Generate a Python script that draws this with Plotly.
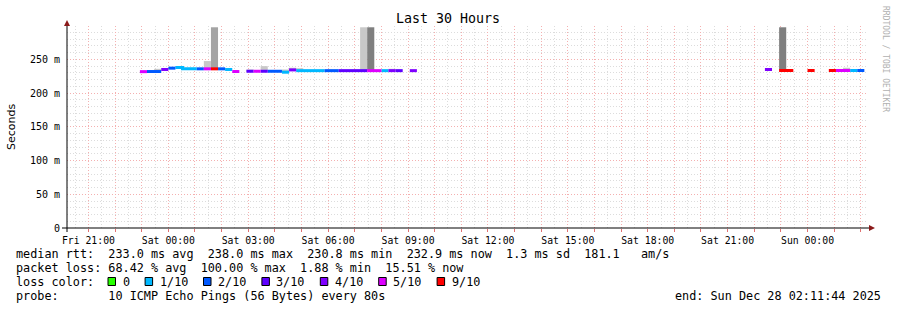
import plotly.graph_objects as go
from datetime import datetime, timedelta

# ---------------- data ----------------
TITLE = "Last 30 Hours"
END = datetime(2025, 12, 28, 2, 11, 44)
START = END - timedelta(hours=30)
FIRST_SAMPLE = datetime(2025, 12, 26, 22, 56, 0)   # start of consolidated sample 0
STEP_S = 960                                        # consolidated step (s)

# consolidated samples that have a median (100 % loss samples are absent)
sample_idx = [0, 1, 2, 3, 4, 5, 6, 7, 8, 9, 10, 11, 12, 13,
              15, 16, 17, 18, 19, 20, 21, 22, 23, 24, 25, 26, 27, 28, 29, 30, 31, 32, 33, 34, 35, 36, 38,
              88, 90, 91, 94, 97, 98, 99, 100, 101]
median_ms = [231.8, 232.0, 232.0, 235.0, 237.0, 238.0, 236.0, 236.0, 236.0, 236.0, 236.0, 236.0, 235.0, 232.0,
             232.4, 232.4, 232.4, 232.4, 232.4, 231.0, 234.4, 233.3, 233.3, 233.3, 233.3, 233.3, 233.3, 233.3,
             233.3, 233.3, 233.3, 233.3, 233.3, 233.3, 233.3, 233.3, 233.3,
             235.0, 233.5, 233.5, 233.5, 233.5, 233.5, 233.5, 233.5, 233.5]
loss_count = [5, 2, 2, 4, 2, 1, 1, 1, 2, 5, 9, 2, 1, 5,
              3, 5, 3, 2, 2, 1, 4, 1, 1, 1, 1, 2, 2, 3, 3, 3, 3, 5, 5, 1, 4, 3, 4,
              4, 9, 9, 9, 9, 5, 5, 1, 2]

# visible smoke above the median
smoke_idx = [2, 9, 10, 15, 17, 20, 21, 22, 31, 32, 35, 90, 99]
smoke_top_ms = [236.0, 247.5, 297.6, 235.0, 240.0, 235.0, 237.6, 237.0, 297.6, 297.6, 236.0, 297.6, 237.6]
smoke_shade = [0, 0, 1, 0, 0, 0, 0, 0, 0, 2, 0, 2, 0]

loss_levels = [0, 1, 2, 3, 4, 5, 9]
loss_labels = ["0", "1/10", "2/10", "3/10", "4/10", "5/10", "9/10"]
loss_colors = ["#26ff00", "#00b8ff", "#0059ff", "#5e00ff", "#7e00ff", "#dd00ff", "#ff0000"]
shade_colors = ["#c8c8c8", "#a4a4a4", "#7f7f7f"]

y_tickvals = [0, 0.05, 0.10, 0.15, 0.20, 0.25]
y_ticktext = ["0", "50 m", "100 m", "150 m", "200 m", "250 m"]

stats_rtt = "median rtt:  233.0 ms avg  238.0 ms max  230.8 ms min  232.9 ms now  1.3 ms sd  181.1   am/s"
stats_loss = "packet loss: 68.42 % avg  100.00 % max  1.88 % min  15.51 % now"
probe_txt = "probe:       10 ICMP Echo Pings (56 Bytes) every 80s"

# ---------------- geometry helpers ----------------
W, H = 897, 310
ML, MR, MT, MB = 67, 31, 26, 82
PW, PH = W - ML - MR, H - MT - MB
FONT = "DejaVu Sans Mono"


def px(x):
    return (x - ML) / PW


def py(y):
    return (H - MB - y) / PH


def nb(s):
    return s.replace(" ", "\u00a0")


step = timedelta(seconds=STEP_S)
med = dict(zip(sample_idx, median_ms))
los = dict(zip(sample_idx, loss_count))

fig = go.Figure()

# smoke
for s, col in enumerate(shade_colors):
    xs, bs, hs = [], [], []
    for k, top, sh in zip(smoke_idx, smoke_top_ms, smoke_shade):
        if sh != s:
            continue
        xs.append(FIRST_SAMPLE + step * k + step / 2)
        bs.append(med[k] / 1000)
        hs.append((top - med[k]) / 1000)
    if xs:
        fig.add_trace(go.Bar(x=xs, y=hs, base=bs, width=[STEP_S * 1000] * len(xs),
                             marker=dict(color=col, line=dict(width=0)), hoverinfo="skip"))

# median line coloured by loss
for lvl, col in zip(loss_levels, loss_colors):
    xs, ys = [], []
    run = []
    ks = [k for k in sample_idx if los[k] == lvl]
    runs = []
    for k in ks:
        if run and k == run[-1] + 1:
            run.append(k)
        else:
            if run:
                runs.append(run)
            run = [k]
    if run:
        runs.append(run)
    for r in runs:
        for k in r:
            xs.append(FIRST_SAMPLE + step * k)
            ys.append(med[k] / 1000)
        xs.append(FIRST_SAMPLE + step * (r[-1] + 1))
        ys.append(med[r[-1]] / 1000)
        xs.append(None)
        ys.append(None)
    if ks:
        fig.add_trace(go.Scatter(x=xs, y=ys, mode="lines", line=dict(color=col, width=3, shape="hv"),
                                 connectgaps=False, hoverinfo="skip"))

# x ticks (hourly grid, labels every 3 h)
first_hour = START.replace(minute=0, second=0) + timedelta(hours=1)
tickvals, ticktext = [], []
t = first_hour
while t <= END:
    tickvals.append(t)
    ticktext.append(t.strftime("%a %H:%M") if t.hour % 3 == 0 else "")
    t += timedelta(hours=1)

MGRID = "#f4b0b0"
GRID = "#dcdcdc"
DASH = "1px,2px"

fig.update_layout(
    width=W, height=H, margin=dict(l=ML, r=MR, t=MT, b=MB, pad=0),
    paper_bgcolor="white", plot_bgcolor="white", showlegend=False, barmode="overlay",
    font=dict(family=FONT, size=10, color="black"),
    xaxis=dict(type="date", range=[START, END], tickmode="array", tickvals=tickvals, ticktext=ticktext,
               showgrid=True, gridcolor=MGRID, griddash=DASH, gridwidth=1,
               minor=dict(tick0=first_hour - timedelta(minutes=30), dtick=1800000, showgrid=True,
                          gridcolor=GRID, griddash=DASH, gridwidth=1, ticks=""),
               ticks="outside", ticklen=3, tickcolor="#e07070", showline=False, zeroline=False,
               tickfont=dict(family=FONT, size=9.8, color="black"), fixedrange=True),
    yaxis=dict(range=[0, 0.2995], tickmode="array", tickvals=y_tickvals, ticktext=y_ticktext,
               showgrid=True, gridcolor=MGRID, griddash=DASH, gridwidth=1,
               minor=dict(dtick=0.01, tick0=0, showgrid=True, gridcolor=GRID, griddash=DASH, gridwidth=1, ticks=""),
               ticks="outside", ticklen=4, tickcolor="rgba(0,0,0,0)", showline=False, zeroline=False,
               tickfont=dict(family=FONT, size=10, color="black"), fixedrange=True),
)

shapes = []
# axis lines extending past the plot area, with arrow heads
shapes.append(dict(type="line", xref="paper", yref="paper", x0=px(62), x1=px(869), y0=py(228), y1=py(228),
                   line=dict(color="black", width=1)))
shapes.append(dict(type="line", xref="paper", yref="paper", x0=px(67), x1=px(67), y0=py(232), y1=py(24),
                   line=dict(color="black", width=1)))
shapes.append(dict(type="path", xref="paper", yref="paper",
                   path=f"M {px(869)} {py(225)} L {px(875)} {py(228)} L {px(869)} {py(231)} Z",
                   fillcolor="#8b1a1a", line=dict(color="#8b1a1a", width=0)))
shapes.append(dict(type="path", xref="paper", yref="paper",
                   path=f"M {px(64)} {py(26)} L {px(67)} {py(20)} L {px(70)} {py(26)} Z",
                   fillcolor="#8b1a1a", line=dict(color="#8b1a1a", width=0)))

ann = []
ann.append(dict(text=TITLE, x=px(448), y=py(19), xref="paper", yref="paper", showarrow=False,
                xanchor="center", yanchor="middle", font=dict(family=FONT, size=13.3, color="black")))
ann.append(dict(text="Seconds", x=px(11), y=py(127), xref="paper", yref="paper", showarrow=False,
                textangle=-90, xanchor="center", yanchor="middle",
                font=dict(family="DejaVu Sans", size=11, color="black")))
ann.append(dict(text=nb("RRDTOOL / TOBI OETIKER"), x=px(886), y=py(59), xref="paper", yref="paper",
                showarrow=False, textangle=90, xanchor="center", yanchor="middle",
                font=dict(family=FONT, size=8, color="#b0b0b0")))

LF = dict(family=FONT, size=11.8, color="black")
for txt, yy in [(stats_rtt, 254), (stats_loss, 268), ("loss color:", 282), (probe_txt, 296)]:
    ann.append(dict(text=nb(txt), x=px(13.5), y=py(yy), xref="paper", yref="paper", showarrow=False,
                    xanchor="left", yanchor="middle", font=LF))
ann.append(dict(text=nb("end: " + END.strftime("%a %b %d %H:%M:%S %Y")), x=px(882.5), y=py(296),
                xref="paper", yref="paper", showarrow=False, xanchor="right", yanchor="middle", font=LF))

sx = 108.0
for lab, col in zip(loss_labels, loss_colors):
    shapes.append(dict(type="rect", xref="paper", yref="paper", x0=px(sx), x1=px(sx + 7.5),
                       y0=py(285.5), y1=py(277.5), fillcolor=col, line=dict(color="black", width=1)))
    ann.append(dict(text=nb(lab), x=px(sx + 12.5), y=py(282), xref="paper", yref="paper", showarrow=False,
                    xanchor="left", yanchor="middle", font=LF))
    sx += 30 + 7.1 * len(lab)

fig.update_layout(shapes=shapes, annotations=ann)
fig.write_html("out.html")
